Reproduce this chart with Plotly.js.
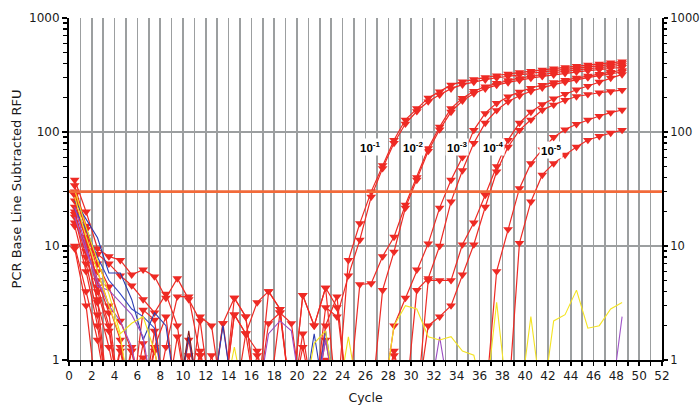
<!DOCTYPE html>
<html>
<head>
<meta charset="utf-8">
<script src="https://cdn.plot.ly/plotly-3.0.1.min.js"></script>
<style>
html,body{margin:0;padding:0;background:#fff;}
#chart{width:700px;height:409px;}
</style>
</head>
<body>
<div id="chart"></div>
<script>
// ---------- DATA ----------
var cycles = [0.5,1.5,2.5,3.5,4.5,5.5,6.5,7.5,8.5,9.5,
  10.5,11.5,12.5,13.5,14.5,15.5,16.5,17.5,18.5,19.5,
  20.5,21.5,22.5,23.5,24.5,25.5,26.5,27.5,28.5,29.5,
  30.5,31.5,32.5,33.5,34.5,35.5,36.5,37.5,38.5,39.5,
  40.5,41.5,42.5,43.5,44.5,45.5,46.5,47.5,48.5];

var threshold = 30;
var thresholdCycles = [0, 52];

// red (FAM) wells, values in RFU (0.4 = below the 1 RFU floor)
var dil1a = [38,20,9.5,8.1,7.5,5.6,6.2,5.4,3.5,5.2,
  3.4,2.2,0.4,0.4,3.5,2.4,0.4,4.0,2.8,0.4,
  3.7,2.0,4.3,0.4,7.5,15.8,30,51,85,128,
  161,199,226,259,277,290,302,313,323,333,
  342,351,360,369,378,387,396,405,414];
var dil1b = [22,12,5,2.6,0.4,0.4,2.75,2.25,0.4,0.4,
  1.5,0.4,0.4,2.1,0.4,1.7,1.2,0.4,2.6,2.1,
  0.4,0.4,2.9,2.4,5.5,11.3,27,48,80,118,
  152,185,212,240,260,275,288,299,309,319,
  328,337,346,355,364,373,382,391,400];
var dil2a = [34,15,6,3,1.5,0.4,0.4,1.8,0.4,0.4,
  0.4,1.2,0.4,0.4,0.4,0.4,0.4,0.4,0.4,0.4,
  1.3,0.4,0.4,0.4,0.4,4.6,4.7,8.1,12,23,
  40,72,111,161,198,228,250,268,283,296,
  308,320,331,341,350,359,367,376,385];
var dil2b = [30,14,4.4,2.0,0.4,1.3,0.4,0.4,0.4,1.6,
  0.4,0.4,0.4,0.4,0.4,0.4,0.4,0.4,0.4,0.4,
  0.4,0.4,1.5,0.4,0.4,0.4,0.4,4.1,8.9,21.6,
  38,68,105,150,188,218,240,258,272,285,
  297,308,318,328,337,345,353,361,370];
var dil3a = [25,11,4,1.8,0.4,0.4,0.4,1.3,2.4,0.4,
  0.4,0.4,0.4,0.4,2.5,1.7,0.4,0.4,0.4,0.4,
  0.4,0.4,0.4,0.4,0.4,0.4,0.4,0.4,2.0,3.5,
  6.2,10.5,21.6,38,60,104,146,179,204,225,
  243,258,272,285,298,310,322,335,348];
var dil3b = [20,9,3.2,1.3,0.4,0.4,0.4,0.4,0.4,0.4,
  0.4,1.1,0.4,0.4,0.4,0.4,0.4,0.4,0.4,0.4,
  0.4,0.4,0.4,0.4,0.4,0.4,0.4,0.4,1.1,0.4,
  4.1,5.2,10,24.5,46,80,120,155,185,208,
  228,245,260,274,288,300,312,325,336];
var dil4a = [18,7,2.5,0.4,0.4,0.4,1.4,0.4,0.4,0.4,
  0.4,0.4,0.4,0.4,0.4,0.4,0.4,0.4,0.4,0.4,
  0.4,0.4,0.4,0.4,0.4,0.4,0.4,0.4,0.4,0.4,
  0.4,5,5,5,10.3,16,28,50,85,120,
  150,175,196,215,235,253,275,298,320];
var dil4b = [15,6,2,0.4,1.2,0.4,0.4,0.4,0.4,0.4,
  0.4,0.4,0.4,0.4,0.4,0.4,0.4,0.4,0.4,0.4,
  0.4,0.4,0.4,0.4,0.4,0.4,0.4,0.4,0.4,0.4,
  0.4,2.0,2.4,3.0,5.6,10.3,22,45,74,104,
  128,156,173,190,205,214,221,227,233];
var dil5a = [10,4,1.5,0.4,0.4,1.2,0.4,0.4,0.4,0.4,
  1.1,0.4,0.4,0.4,0.4,0.4,1.1,0.4,0.4,0.4,
  0.4,0.4,1.0,0.4,0.4,0.4,0.4,0.4,0.4,0.4,
  0.4,0.4,0.4,0.4,0.4,0.4,0.4,6,14,32,
  53,70,90,105,117,128,138,148,156];
var dil5b = [9.5,3,0.4,0.4,0.4,0.4,1.05,0.4,0.4,0.4,
  0.4,0.4,0.4,0.4,0.4,0.4,0.4,0.4,0.4,0.4,
  0.4,0.4,0.4,0.4,0.4,0.4,0.4,0.4,0.4,0.4,
  0.4,0.4,0.4,0.4,0.4,0.4,0.4,0.4,0.4,10.6,
  24.5,42,53,63,74,85,92,98,104];
var ntc1 = [28,14,7,4.4,2.2,1.2,0.4,0.4,1.3,3.6,
  3.6,1.1,0.4,2.1,3.5,2.4,0.4,2.1,2.6,0.4,
  1.7,0.4,2.0,3.6,0.4,0.4,0.4,0.4,1.2,0.4,
  0.4,0.4,0.4,0.4,0.4,0.4,0.4,0.4,0.4,0.4,
  0.4,0.4,0.4,0.4,0.4,0.4,0.4,0.4,0.4];
var ntc2 = [19,8,3.4,0.4,1.3,0.4,0.4,1.2,0.4,0.4,
  0.4,2.4,2.0,0.4,2.5,1.7,3.2,4.0,2.8,0.4,
  3.7,2.0,4.3,2.9,0.4,0.4,0.4,0.4,0.4,0.4,
  0.4,0.4,0.4,0.4,0.4,0.4,0.4,0.4,0.4,0.4,
  0.4,0.4,0.4,0.4,0.4,0.4,0.4,0.4,0.4];
var ntc3 = [16,10,8.5,7,5.5,4.5,3.4,2.6,3.8,2.0,
  0.4,0.4,1.1,0.4,0.4,0.4,0.4,0.4,0.4,0.4,
  0.4,0.4,0.4,0.4,0.4,0.4,0.4,0.4,0.4,0.4,
  0.4,0.4,0.4,0.4,0.4,0.4,0.4,0.4,0.4,0.4,
  0.4,0.4,0.4,0.4,0.4,0.4,0.4,0.4,0.4];

// other dye channels (thin lines, no markers)
var blue1 = [25,17,11.8,5.8,5.8,3.4,1.5,2.6,2.0,0.4,
  1.6,0.4,0.4,2.0,0.4,0.4,0.4,0.4,0.4,0.4,
  0.4,1.7,0.4,0.4,0.4,0.4,0.4,0.4,0.4,0.4,
  0.4,0.4,0.4,0.4,0.4,0.4,0.4,0.4,0.4,0.4,
  0.4,0.4,0.4,0.4,0.4,0.4,0.4,0.4,0.4];
var blue2 = [21,14,8,5,3.8,2.8,2.4,1.9,0.4,0.4,
  0.4,0.4,0.4,0.4,0.4,0.4,0.4,0.4,0.4,0.4,
  0.4,0.4,1.8,0.4,0.4,0.4,0.4,0.4,0.4,0.4,
  0.4,0.4,0.4,0.4,0.4,0.4,0.4,0.4,0.4,0.4,
  0.4,0.4,0.4,0.4,0.4,0.4,0.4,0.4,0.4];
var purple1 = [22,10,4.4,4.1,3.2,2.5,1.6,0.4,0.4,0.4,
  0.4,0.4,0.4,0.4,0.4,0.4,0.4,1.7,2.2,1.8,
  0.4,0.4,1.5,0.4,0.4,0.4,0.4,0.4,0.4,0.4,
  0.4,0.4,1.6,0.4,0.4,0.4,0.4,0.4,0.4,0.4,
  0.4,0.4,0.4,0.4,0.4,0.4,0.4,0.4,0.4];
var purple2 = [18,9,5,3,2.2,1.3,0.4,0.4,0.4,0.4,
  0.4,0.4,0.4,0.4,0.4,0.4,0.4,0.4,0.4,0.4,
  0.4,0.4,0.4,0.4,0.4,0.4,0.4,0.4,0.4,0.4,
  0.4,0.4,0.4,0.4,0.4,0.4,0.4,0.4,0.4,0.4,
  0.4,0.4,0.4,0.4,0.4,0.4,0.4,0.4,2.4];
var yellow1 = [31,14.6,7.5,3.8,1.7,2.1,2.4,1.2,0.4,0.4,
  0.4,0.4,0.4,0.4,1.3,0.4,0.4,0.4,0.4,0.4,
  0.4,1.4,1.8,0.4,1.6,0.4,0.4,0.4,0.4,0.4,
  0.4,0.4,0.4,0.4,0.4,0.4,0.4,0.4,0.4,0.4,
  0.4,0.4,0.4,0.4,0.4,0.4,0.4,0.4,0.4];
var yellow2 = [27,12,6,3,1.6,0.4,0.4,0.4,0.4,0.4,
  0.4,0.4,0.4,0.4,0.4,0.4,0.4,0.4,0.4,0.4,
  0.4,0.4,0.4,0.4,0.4,0.4,0.4,0.4,2.0,3.0,
  2.8,1.6,1.5,1.6,1.2,1.1,0.4,3.2,0.4,0.4,
  2.4,0.4,2.2,2.5,4.1,1.9,2.0,2.8,3.2];
var maroon1 = [0.4,0.4,0.4,0.4,0.4,0.4,0.4,0.4,0.4,0.4,
  1.8,0.4,0.4,0.4,0.4,0.4,0.4,0.4,0.4,0.4,
  0.4,0.4,0.4,0.4,0.4,0.4,0.4,0.4,0.4,0.4,
  0.4,0.4,0.4,0.4,0.4,0.4,0.4,0.4,0.4,0.4,
  0.4,0.4,0.4,0.4,0.4,0.4,0.4,0.4,0.4];

var redSeries = [dil1a, dil1b, dil2a, dil2b, dil3a, dil3b, dil4a, dil4b, dil5a, dil5b, ntc1, ntc2, ntc3];
var otherSeries = [blue1, blue2, purple1, purple2, yellow1, yellow2, maroon1];
var otherColors = ['#2b3cb0', '#3346c4', '#9a4cc2', '#a055c8', '#f2e01c', '#f4e423', '#8a1c1c'];

var dilutionLabels = ['10<sup>-1</sup>', '10<sup>-2</sup>', '10<sup>-3</sup>', '10<sup>-4</sup>', '10<sup>-5</sup>'];
var labelCycles = [26.4, 30.2, 34.0, 37.2, 42.3];
var labelRFU = [74, 74, 74, 74, 70];

var xTickVals = [0,2,4,6,8,10,12,14,16,18,20,22,24,26,28,30,32,34,36,38,40,42,44,46,48,50,52];
var yTickVals = [1, 10, 100, 1000];
var yTickText = ['1', '10', '100', '1000'];
var yMinorVals = [2,3,4,5,6,7,8,9,20,30,40,50,60,70,80,90,200,300,400,500,600,700,800,900];

// ---------- TRACES ----------
var RED = '#ee2a24';
var traces = [];
traces.push({
  x: thresholdCycles, y: [threshold, threshold], type: 'scatter', mode: 'lines',
  line: {color: '#f26a3a', width: 2.6}, yaxis: 'y2', hoverinfo: 'skip'
});
redSeries.forEach(function (s) {
  traces.push({
    x: cycles, y: s, type: 'scatter', mode: 'lines+markers',
    line: {color: RED, width: 1.2},
    marker: {symbol: 'triangle-down', size: 8.5, color: RED},
    cliponaxis: true
  });
});
otherSeries.forEach(function (s, i) {
  traces.push({
    x: cycles, y: s, type: 'scatter', mode: 'lines',
    line: {color: otherColors[i], width: 1.1}
  });
});

var annotations = dilutionLabels.map(function (t, i) {
  return {
    x: labelCycles[i], y: Math.log10(labelRFU[i]), xref: 'x', yref: 'y',
    text: '<b>' + t + '</b>', showarrow: false,
    bgcolor: '#ffffff', borderpad: 1,
    font: {family: 'Liberation Sans, Arial, sans-serif', size: 11.5, color: '#000'}
  };
});

var gridCol = '#9c9fa0';
var tickFont = {family: 'DejaVu Sans, Verdana, sans-serif', size: 12, color: '#1a1a1a'};
var rightFont = {family: 'DejaVu Sans, Verdana, sans-serif', size: 11.5, color: '#1a1a1a'};

var layout = {
  width: 700, height: 409,
  margin: {l: 69, r: 38, t: 18, b: 49},
  paper_bgcolor: '#ffffff', plot_bgcolor: '#ffffff',
  showlegend: false,
  font: tickFont,
  xaxis: {
    range: [0, 52], tickmode: 'array', tickvals: xTickVals,
    ticks: 'outside', ticklen: 4, tickwidth: 1.5, tickcolor: '#000',
    showline: true, linecolor: '#000', linewidth: 2,
    showgrid: true, gridcolor: gridCol, gridwidth: 1.6,
    zeroline: false,
    minor: {dtick: 1, tick0: 0, ticks: 'outside', ticklen: 4, tickcolor: '#000', tickwidth: 1.5,
            showgrid: true, gridcolor: gridCol, gridwidth: 1.6},
    tickfont: tickFont,
    title: {text: 'Cycle', font: {family: 'DejaVu Sans, Verdana, sans-serif', size: 12.5, color: '#1a1a1a'}, standoff: 11}
  },
  yaxis: {
    type: 'log', range: [0, 3], tickmode: 'array', tickvals: yTickVals, ticktext: yTickText,
    ticks: 'outside', ticklen: 5, tickwidth: 1.5, tickcolor: '#000',
    showline: true, linecolor: '#000', linewidth: 2,
    showgrid: true, gridcolor: gridCol, gridwidth: 1.6, zeroline: false,
    minor: {tickmode: 'array', tickvals: yMinorVals, ticks: 'outside', ticklen: 4, tickcolor: '#000', tickwidth: 1.5, showgrid: false},
    tickfont: tickFont,
    title: {text: 'PCR Base Line Subtracted RFU', font: {family: 'DejaVu Sans, Verdana, sans-serif', size: 13, color: '#1a1a1a'}, standoff: 5}
  },
  yaxis2: {
    type: 'log', range: [0, 3], overlaying: 'y', side: 'right', anchor: 'x',
    tickmode: 'array', tickvals: yTickVals, ticktext: yTickText,
    ticks: 'outside', ticklen: 4, tickwidth: 1.5, tickcolor: '#000',
    showline: true, linecolor: '#000', linewidth: 2,
    showgrid: false, zeroline: false,
    minor: {tickmode: 'array', tickvals: yMinorVals, ticks: 'outside', ticklen: 3, tickcolor: '#000', tickwidth: 1.5, showgrid: false},
    tickfont: rightFont
  },
  annotations: annotations
};

Plotly.newPlot('chart', traces, layout, {staticPlot: true, displayModeBar: false});
</script>
</body>
</html>
